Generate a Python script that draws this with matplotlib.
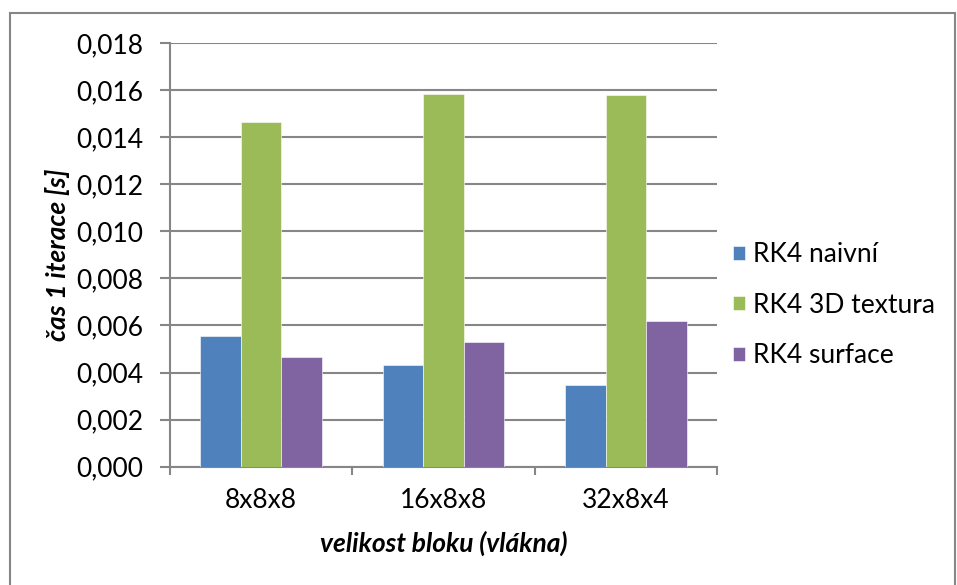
import matplotlib.pyplot as plt
import numpy as np
from matplotlib.patches import Rectangle
from matplotlib.ticker import FuncFormatter

# block sizes and time per iteration [s]
bloky = ['8x8x8', '16x8x8', '32x8x4']
rk4_naivni = [0.00555, 0.00431, 0.00346]
rk4_textura = [0.01466, 0.01584, 0.01581]
rk4_surface = [0.00465, 0.00531, 0.00619]

serie = ['RK4 naivní', 'RK4 3D textura', 'RK4 surface']
barvy = ['#4F81BD', '#9BBB59', '#8064A2']

plt.rcParams['font.family'] = ['Lato', 'DejaVu Sans']
fs = 19

fig = plt.figure(figsize=(9.57, 5.85), dpi=100)
ax = fig.add_axes([170 / 957, 1 - 466.7 / 585, 547 / 957, 423.7 / 585])

x = np.arange(len(bloky))
w = 1 / 4.5
for i, (hodnoty, nazev, barva) in enumerate(zip([rk4_naivni, rk4_textura, rk4_surface], serie, barvy)):
    ax.bar(x + (i - 1) * w, hodnoty, w, color=barva, label=nazev,
           edgecolor='white', linewidth=0.4, zorder=3)

ax.set_xlim(-0.5, 2.5)
ax.set_ylim(0, 0.018)
ax.set_yticks(np.arange(0, 0.0181, 0.002))
ax.yaxis.set_major_formatter(FuncFormatter(lambda v, p: f'{v:.3f}'.replace('.', ',')))
ax.set_xticks(x)
ax.set_xticklabels(bloky)
# category boundaries as tick marks
ax.set_xticks([-0.5, 0.5, 1.5, 2.5], minor=True)
ax.tick_params(axis='x', which='major', length=0, pad=15, labelsize=fs)
ax.tick_params(axis='x', which='minor', length=6, color='#868686', width=1.5, direction='out')
ax.tick_params(axis='y', length=7, color='#868686', width=1.5, labelsize=fs, pad=12)

ax.grid(axis='y', color='#868686', linewidth=1.5, zorder=0)
for s in ['top', 'right']:
    ax.spines[s].set_visible(False)
for s in ['left', 'bottom']:
    ax.spines[s].set_color('#868686')
    ax.spines[s].set_linewidth(1.5)

# axis titles
ax.text(-0.206, 0.5, 'čas 1 iterace [s]', transform=ax.transAxes, rotation=90,
        ha='center', va='center', fontsize=fs, fontweight='bold', fontstyle='italic')
ax.text(0.5, -0.18, 'velikost bloku (vlákna)', transform=ax.transAxes,
        ha='center', va='center', fontsize=fs, fontweight='bold', fontstyle='italic')

ax.legend(loc='center left', bbox_to_anchor=(1.03, 0.381), frameon=False, fontsize=fs,
          borderaxespad=0, borderpad=0,
          handlelength=0.45, handleheight=0.45, handletextpad=0.3, labelspacing=0.97)

# chart border
fig.patches.append(Rectangle((10 / 957, -0.01), 945 / 957, 1 - 13 / 585 + 0.01,
                             transform=fig.transFigure, fill=False,
                             edgecolor='#868686', linewidth=1.5))

fig.savefig('out.png', dpi=100)
